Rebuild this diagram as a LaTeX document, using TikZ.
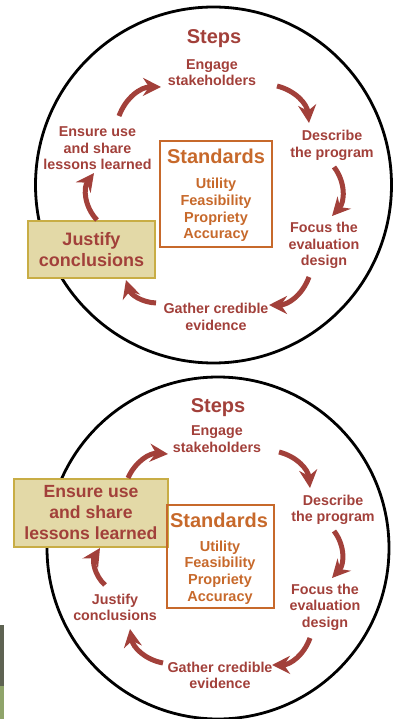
\documentclass[tikz,border=0pt]{standalone}
\usepackage{fontspec}
\setmainfont{Liberation Sans}
\usetikzlibrary{arrows.meta}
\definecolor{stepred}{HTML}{A2403A}
\definecolor{stdorange}{HTML}{C7692B}
\definecolor{boxfill}{HTML}{E3D9A7}
\definecolor{boxedge}{HTML}{C8AD45}
\tikzset{
  stage/.style={text=stepred, align=center, inner sep=0pt, font=\bfseries\fontsize{14.3}{16.5}\selectfont},
  stepstitle/.style={text=stepred, inner sep=0pt, font=\bfseries\fontsize{20}{22}\selectfont},
  keystage/.style={draw=boxedge, fill=boxfill, line width=2pt, text=stepred, align=center, inner sep=0pt, font=\bfseries\fontsize{18}{21}\selectfont},
  stdbox/.style={draw=stdorange, line width=2.5pt, inner sep=0pt},
  stdhead/.style={text=stdorange, inner sep=0pt, font=\bfseries\fontsize{20}{22}\selectfont},
  stdlist/.style={text=stdorange, align=center, inner sep=0pt, font=\bfseries\fontsize{14.5}{16.7}\selectfont},
  steparrow/.style={draw=stepred, line width=5pt, -{Stealth[length=18pt,width=18pt,inset=6pt]}, bend left=#1},
  steparrow/.default=35
}
\begin{document}
\begin{tikzpicture}[x=1pt,y=-1pt]
    \useasboundingbox (0,0) rectangle (396,719);
    % strip at the left edge
    \fill[fill={rgb,255:red,94;green,99;blue,82}] (0,625) rectangle (4,686);
    \fill[fill={rgb,255:red,143;green,164;blue,106}] (0,686) rectangle (4,719);

    % upper cycle: justify conclusions highlighted
    \draw[line width=2.8pt] (213.5,185) circle (178);
    \node[stepstitle] (st1) at (214,39){Steps};
    \node[stage] (eng1) at (212,72.5){Engage\\stakeholders};
    \node[stage] (des1) at (332,145.5){Describe\\the program};
    \node[stage] (foc1) at (324,245.5){Focus the\\evaluation\\design};
    \node[stage] (gat1) at (216,317){Gather credible\\evidence};
    \node[keystage,minimum width=127pt,minimum height=57pt] (jus1) at (91.5,249.5){Justify\\conclusions};
    \node[stage] (ens1) at (97.5,148.5){Ensure use\\and share\\lessons learned};
    \node[stdbox,minimum width=112pt,minimum height=106pt] (std1) at (216,194){};
    \node[stdhead] (sth1) at (216,156){Standards};
    \node[stdlist] (stl1) at (216,210){Utility\\Feasibility\\Propriety\\Accuracy};
    \coordinate (a1) at (277,86);   \coordinate (b1) at (309,123);
    \coordinate (a2) at (334,167);  \coordinate (b2) at (332,216);
    \coordinate (a3) at (309,277);  \coordinate (b3) at (269,305);
    \coordinate (a4) at (156,303);  \coordinate (b4) at (126,280);
    \coordinate (a5) at (97,220);   \coordinate (b5) at (94,173);
    \coordinate (a6) at (119,116);  \coordinate (b6) at (161,87);
    \draw[steparrow] (a1) to (b1);
    \draw[steparrow=40] (a2) to (b2);
    \draw[steparrow] (a3) to (b3);
    \draw[steparrow] (a4) to (b4);
    \draw[steparrow=40] (a5) to (b5);
    \draw[steparrow] (a6) to (b6);

    % lower cycle: ensure use highlighted
    \draw[line width=2.8pt] (218,548) circle (171);
    \node[stepstitle] (st2) at (218,408){Steps};
    \node[stage] (eng2) at (217,439){Engage\\stakeholders};
    \node[stage] (des2) at (333,510){Describe\\the program};
    \node[stage] (foc2) at (325,607){Focus the\\evaluation\\design};
    \node[stage] (gat2) at (220,675.5){Gather credible\\evidence};
    \node[stage] (jus2) at (115,607.5){Justify\\conclusions};
    \node[keystage,minimum width=154pt,minimum height=68pt,font=\bfseries\fontsize{17.6}{21}\selectfont] (ens2) at (91,513){Ensure use\\and share\\lessons learned};
    \node[stdbox,minimum width=107pt,minimum height=103pt] (std2) at (220.5,556.5){};
    \node[stdhead] (sth2) at (219,520){Standards};
    \node[stdlist] (stl2) at (220,572.5){Utility\\Feasibility\\Propriety\\Accuracy};
    \coordinate (c1) at (279,452);  \coordinate (d1) at (310,488);
    \coordinate (c2) at (334,531);  \coordinate (d2) at (332,578);
    \coordinate (c3) at (310,638);  \coordinate (d3) at (272,665);
    \coordinate (c4) at (163,663);  \coordinate (d4) at (130,629);
    \coordinate (c5) at (105,585);  \coordinate (d5) at (100,548);
    \coordinate (c6) at (128,478);  \coordinate (d6) at (168,454);
    \draw[steparrow] (c1) to (d1);
    \draw[steparrow=40] (c2) to (d2);
    \draw[steparrow] (c3) to (d3);
    \draw[steparrow] (c4) to (d4);
    \draw[steparrow=40] (c5) to (d5);
    \draw[steparrow] (c6) to (d6);
\end{tikzpicture}
\end{document}
